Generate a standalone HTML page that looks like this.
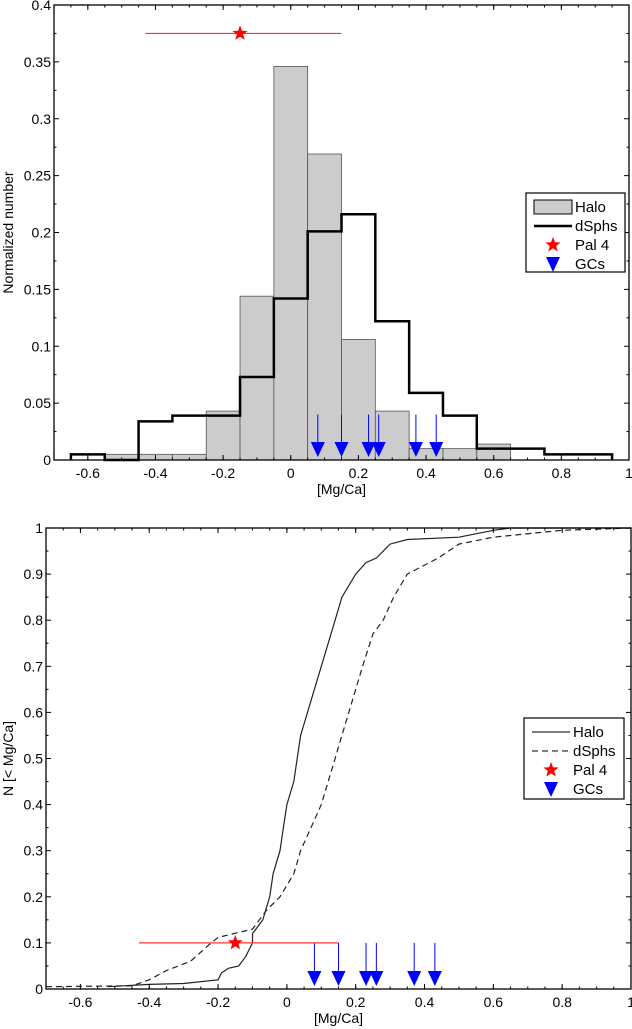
<!DOCTYPE html>
<html><head><meta charset="utf-8"><style>
html,body{margin:0;padding:0;background:#fff;}
svg{display:block;font-family:"Liberation Sans",Arial,sans-serif;}
</style></head><body>
<svg id="chart" width="632" height="1029" viewBox="0 0 632 1029"></svg>
<script>
const binCenters=[-0.6,-0.5,-0.4,-0.3,-0.2,-0.1,0,0.1,0.2,0.3,0.4,0.5,0.6];
const haloHist=[0,0.005,0.005,0.005,0.043,0.144,0.346,0.269,0.106,0.043,0.01,0.01,0.014];
const dsphCenters=[-0.6,-0.5,-0.4,-0.3,-0.2,-0.1,0,0.1,0.2,0.3,0.4,0.5,0.6,0.7,0.8,0.9];
const dsphHist=[0.005,0,0.034,0.039,0.039,0.073,0.142,0.201,0.216,0.122,0.059,0.039,0.01,0.01,0.005,0.005];
const gcValues=[0.08,0.15,0.23,0.26,0.37,0.43];
const pal4=-0.15, pal4Lo=-0.43, pal4Hi=0.15;
const haloCdfX=[-0.52,-0.4,-0.3,-0.2,-0.19,-0.17,-0.14,-0.12,-0.1,-0.1,-0.07,-0.05,-0.04,-0.02,-0.01,0,0.02,0.03,0.04,0.06,0.08,0.1,0.12,0.14,0.16,0.2,0.23,0.26,0.3,0.35,0.5,0.6,0.65,1.0];
const haloCdfY=[0.005,0.01,0.012,0.02,0.035,0.045,0.05,0.07,0.1,0.12,0.15,0.2,0.25,0.3,0.35,0.4,0.45,0.5,0.55,0.6,0.65,0.7,0.75,0.8,0.85,0.9,0.925,0.935,0.965,0.975,0.98,0.995,1,1];
const dsphCdfX=[-0.7,-0.45,-0.4,-0.35,-0.28,-0.22,-0.2,-0.1,-0.06,-0.02,0.02,0.04,0.07,0.1,0.12,0.14,0.16,0.18,0.2,0.22,0.25,0.28,0.31,0.35,0.44,0.5,0.6,0.8,1.0];
const dsphCdfY=[0.005,0.007,0.02,0.04,0.06,0.1,0.112,0.13,0.17,0.2,0.25,0.3,0.35,0.4,0.45,0.5,0.55,0.6,0.65,0.7,0.77,0.8,0.85,0.9,0.935,0.965,0.98,0.995,1];
const xTicks=[-0.6,-0.4,-0.2,0,0.2,0.4,0.6,0.8,1];
const xTickLabels=["-0.6","-0.4","-0.2","0","0.2","0.4","0.6","0.8","1"];
const yTicksTop=[0,0.05,0.1,0.15,0.2,0.25,0.3,0.35,0.4];
const yTickLabelsTop=["0","0.05","0.1","0.15","0.2","0.25","0.3","0.35","0.4"];
const yTicksBot=[0,0.1,0.2,0.3,0.4,0.5,0.6,0.7,0.8,0.9,1];
const yTickLabelsBot=["0","0.1","0.2","0.3","0.4","0.5","0.6","0.7","0.8","0.9","1"];

const NS="http://www.w3.org/2000/svg";
const svg=document.getElementById('chart');
function mk(tag,attrs,parent,text){const e=document.createElementNS(NS,tag);for(const k in attrs)e.setAttribute(k,attrs[k]);if(text!==undefined)e.textContent=text;(parent||svg).appendChild(e);return e;}
function star(cx,cy,r){let p=[];for(let i=0;i<10;i++){const rr=i%2?r*0.42:r;const a=-Math.PI/2+i*Math.PI/5;p.push((cx+rr*Math.cos(a)).toFixed(1)+','+(cy+rr*Math.sin(a)).toFixed(1));}return p.join(' ');}

function panel(P){
  const sx=v=>P.x0+(v-(-0.7))/(1.7)*(P.x1-P.x0);
  const sy=v=>P.y0-(v/P.ymax)*(P.y0-P.y1);
  const g=mk('g',{});
  
  
  return {sx,sy,g};
}
function axes(P,ax,yt,ytl,ylabel){
  const {sx,sy,g}=ax;
  const box=mk('rect',{x:P.x0,y:P.y1,width:P.x1-P.x0,height:P.y0-P.y1,fill:'none',stroke:'#000','stroke-width':1.3},g);
  
  xTicks.forEach((t,i)=>{const x=sx(t);
    mk('line',{x1:x,y1:P.y0,x2:x,y2:P.y0-5,stroke:'#000'},g);
    mk('line',{x1:x,y1:P.y1,x2:x,y2:P.y1+5,stroke:'#000'},g);
    const tl=mk('text',{x:x,y:P.y0+18,'font-size':14,'text-anchor':'middle'},g,xTickLabels[i]);
    
  });
  for(let m=-0.7;m<=1.0001;m+=0.05){const x=sx(m);mk('line',{x1:x,y1:P.y0,x2:x,y2:P.y0-2.5,stroke:'#000'},g);mk('line',{x1:x,y1:P.y1,x2:x,y2:P.y1+2.5,stroke:'#000'},g);}
  yt.forEach((t,i)=>{const y=sy(t);
    mk('line',{x1:P.x0,y1:y,x2:P.x0+5,y2:y,stroke:'#000'},g);
    mk('line',{x1:P.x1,y1:y,x2:P.x1-5,y2:y,stroke:'#000'},g);
    const tl=mk('text',{x:P.x0-3,y:y+5,'font-size':14,'text-anchor':'end'},g,ytl[i]);
    
  });
  for(let k=0;k<yt.length-1;k++){const y=sy((yt[k]+yt[k+1])/2);mk('line',{x1:P.x0,y1:y,x2:P.x0+2.5,y2:y,stroke:'#000'},g);mk('line',{x1:P.x1,y1:y,x2:P.x1-2.5,y2:y,stroke:'#000'},g);}
  const xl=mk('text',{x:(P.x0+P.x1)/2,y:P.y0+34,'font-size':14,'text-anchor':'middle'},g,'[Mg/Ca]');
  
  const cy=(P.y0+P.y1)/2;
  const yl=mk('text',{x:13,y:cy,'font-size':14,'text-anchor':'middle',transform:`rotate(-90 13 ${cy})`},g,ylabel);
  
}
function markers(ax,P,arrowTop,pal4Y,starR){
  const {sx,sy,g}=ax;
  gcValues.forEach(v=>{const x=sx(v);
    const a=mk('g',{},g);
    
    mk('line',{x1:x,y1:sy(arrowTop),x2:x,y2:P.y0-8,stroke:'#0000ff','stroke-width':1},a);
    mk('polygon',{points:`${x-7},${P.y0-18} ${x+7},${P.y0-18} ${x},${P.y0-3}`,fill:'#0000ff'},a);
  });
  const e=mk('line',{x1:sx(pal4Lo),y1:sy(pal4Y),x2:sx(pal4Hi),y2:sy(pal4Y),stroke:'#ff3333','stroke-width':1.2},g);
  
  const s=mk('polygon',{points:star(sx(pal4),sy(pal4Y),starR),fill:'#ff0000'},g);
  
}
function legend(g,x,y,w,h,first){
  const L=mk('g',{},g);
  
  mk('rect',{x:x,y:y,width:w,height:h,fill:'#fff',stroke:'#000','stroke-width':1.2},L);
  const rows=[y+14,y+33,y+52,y+71];
  const labels=['Halo','dSphs','Pal 4','GCs'];
  if(first==='hist'){
    mk('rect',{x:x+8,y:rows[0]-7,width:38,height:14,fill:'#cccccc',stroke:'#000'},L);
    mk('line',{x1:x+8,y1:rows[1],x2:x+46,y2:rows[1],stroke:'#000','stroke-width':2.5},L);
  }else{
    mk('line',{x1:x+8,y1:rows[0],x2:x+46,y2:rows[0],stroke:'#333','stroke-width':1.3},L);
    mk('line',{x1:x+8,y1:rows[1],x2:x+46,y2:rows[1],stroke:'#333','stroke-width':1.3,'stroke-dasharray':'6,4'},L);
  }
  mk('polygon',{points:star(x+27,rows[2],8),fill:'#ff0000'},L);
  mk('polygon',{points:`${x+20},${rows[3]-7} ${x+34},${rows[3]-7} ${x+27},${rows[3]+8}`,fill:'#0000ff'},L);
  labels.forEach((t,i)=>{const tx=mk('text',{x:x+49,y:rows[i]+5,'font-size':15},L,t);
    });
}

// Top histogram
const PT={x0:54,x1:629,y0:460,y1:5,ymax:0.4,name:'histogram-panel'};
const at=panel(PT);
haloHist.forEach((v,i)=>{ if(v<=0) return;
  const x0=at.sx(binCenters[i]-0.05),x1=at.sx(binCenters[i]+0.05);
  const r=mk('rect',{x:x0,y:at.sy(v),width:x1-x0,height:PT.y0-at.sy(v),fill:'#cccccc',stroke:'#555','stroke-width':0.8},at.g);
  
});
let d='';
dsphHist.forEach((v,i)=>{const x0=at.sx(dsphCenters[i]-0.05),x1=at.sx(dsphCenters[i]+0.05),y=at.sy(v);
  d+=(i===0?`M${x0},${PT.y0-0.5} L${x0},${y}`:` L${x0},${y}`)+` L${x1},${y}`;});
d+=` L${at.sx(dsphCenters[dsphCenters.length-1]+0.05)},${PT.y0-0.5}`;
const dl=mk('path',{d:d,fill:'none',stroke:'#000','stroke-width':2.5},at.g);

markers(at,PT,0.04,0.375,8);
axes(PT,at,yTicksTop,yTickLabelsTop,'Normalized number');
legend(at.g,526,193,99,79,'hist');

// Bottom CDF
const PB={x0:46,x1:631,y0:989,y1:528,ymax:1,name:'cumulative-panel'};
const ab=panel(PB);
function linePath(xs,ys){return xs.map((x,i)=>(i?'L':'M')+ab.sx(x).toFixed(1)+','+ab.sy(ys[i]).toFixed(1)).join(' ');}
const hc=mk('path',{d:linePath(haloCdfX,haloCdfY),fill:'none',stroke:'#222','stroke-width':1.2},ab.g);

const dc=mk('path',{d:linePath(dsphCdfX,dsphCdfY),fill:'none',stroke:'#222','stroke-width':1.2,'stroke-dasharray':'6,4'},ab.g);

markers(ab,PB,0.1,0.1,8);
axes(PB,ab,yTicksBot,yTickLabelsBot,'N [< Mg/Ca]');
legend(ab.g,524,718,100,81,'cdf');
</script>
</body></html>
